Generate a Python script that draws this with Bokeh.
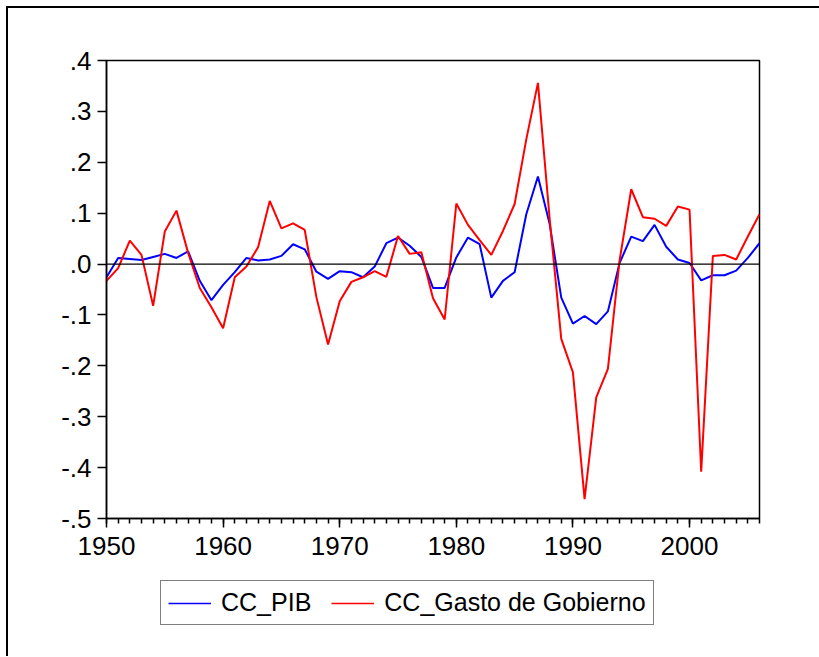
from bokeh.plotting import figure
from bokeh.layouts import column
from bokeh.models import (ColumnDataSource, FixedTicker, CustomJSTickFormatter, Span,
                          Legend, LegendItem)
from bokeh.embed import file_html
from bokeh.resources import INLINE

years = list(range(1950, 2007))
cc_pib = [-0.026, 0.012, 0.010, 0.008, 0.014, 0.020, 0.012, 0.025, -0.033, -0.071,
          -0.041, -0.016, 0.012, 0.007, 0.009, 0.016, 0.039, 0.029, -0.015, -0.029,
          -0.014, -0.016, -0.026, -0.005, 0.041, 0.052, 0.036, 0.014, -0.047, -0.047,
          0.013, 0.052, 0.039, -0.066, -0.033, -0.016, 0.098, 0.172, 0.079, -0.066,
          -0.117, -0.102, -0.118, -0.093, 0.002, 0.054, 0.045, 0.077, 0.034, 0.009,
          0.002, -0.032, -0.022, -0.022, -0.013, 0.012, 0.041]
cc_gasto = [-0.033, -0.008, 0.046, 0.018, -0.082, 0.064, 0.105, 0.022, -0.047, -0.085,
            -0.126, -0.026, -0.005, 0.033, 0.124, 0.070, 0.080, 0.067, -0.065, -0.158,
            -0.073, -0.035, -0.026, -0.014, -0.025, 0.055, 0.020, 0.023, -0.067, -0.109,
            0.119, 0.077, 0.047, 0.018, 0.065, 0.118, 0.245, 0.356, 0.090, -0.147,
            -0.213, -0.462, -0.262, -0.206, 0.007, 0.147, 0.092, 0.089, 0.075, 0.113,
            0.107, -0.408, 0.016, 0.018, 0.009, 0.054, 0.098]
y_ticks = [-0.5, -0.4, -0.3, -0.2, -0.1, 0.0, 0.1, 0.2, 0.3, 0.4]
x_ticks = [1950, 1960, 1970, 1980, 1990, 2000]
labels = ["CC_PIB", "CC_Gasto de Gobierno"]
colors = ["#0000FF", "#FF0000"]

FONT = "Liberation Sans"
FS = "26px"
LFS = "25px"

src = ColumnDataSource(dict(year=years, pib=cc_pib, gasto=cc_gasto))

p = figure(width=811, height=562, output_backend="svg", toolbar_location=None,
           x_range=(1950, 2006), y_range=(-0.5, 0.4),
           min_border_left=98, min_border_right=60, min_border_top=52, min_border_bottom=52)
p.xgrid.visible = False
p.ygrid.visible = False
p.outline_line_color = "black"
p.outline_line_width = 1.5

zero = Span(location=0, dimension="width", line_color="black", line_width=1.2)
p.add_layout(zero)

r1 = p.line("year", "pib", source=src, line_color=colors[0], line_width=2)
r2 = p.line("year", "gasto", source=src, line_color=colors[1], line_width=2)

for ax in (p.xaxis[0], p.yaxis[0]):
    ax.axis_line_color = "black"
    ax.axis_line_width = 1.5
    ax.major_tick_line_color = "black"
    ax.major_tick_line_width = 1.5
    ax.minor_tick_line_color = "black"
    ax.minor_tick_line_width = 1.5
    ax.major_label_text_font = FONT
    ax.major_label_text_font_size = FS
    ax.major_label_text_color = "black"

p.xaxis.ticker = FixedTicker(ticks=x_ticks, minor_ticks=years)
p.xaxis.major_tick_out = 9
p.xaxis.major_tick_in = 0
p.xaxis.minor_tick_out = 5
p.xaxis.minor_tick_in = 0
p.xaxis.major_label_standoff = 9

p.yaxis.ticker = FixedTicker(ticks=y_ticks, minor_ticks=[])
p.yaxis.major_tick_out = 9
p.yaxis.major_tick_in = 0
p.yaxis.minor_tick_out = 0
p.yaxis.major_label_standoff = 6
p.yaxis.formatter = CustomJSTickFormatter(
    code="var s = tick.toFixed(1); return s.replace('0.', '.');")

# legend strip below the chart (frames of the column are aligned)
p2 = figure(width=811, height=86, output_backend="svg", toolbar_location=None,
            x_axis_location=None, y_axis_location=None,
            x_range=(0, 1), y_range=(0, 1),
            min_border_left=0, min_border_right=0, min_border_top=0, min_border_bottom=0)
p2.xgrid.visible = False
p2.ygrid.visible = False
p2.outline_line_color = None
d1 = p2.line([-5, -4], [-5, -4], line_color=colors[0], line_width=1.5)
d2 = p2.line([-5, -4], [-5, -4], line_color=colors[1], line_width=1.5)

legend = Legend(items=[LegendItem(label=labels[0], renderers=[d1]),
                       LegendItem(label=labels[1], renderers=[d2])],
                orientation="horizontal", location=(54, 31),
                label_text_font=FONT, label_text_font_size=LFS, label_text_color="black",
                border_line_color="black", border_line_width=1.2,
                background_fill_alpha=1.0, padding=7, spacing=20,
                label_standoff=10, glyph_width=43, glyph_height=20, margin=0)
p2.add_layout(legend, "center")

layout = column(p, p2, spacing=0,
                styles={"border-left": "2px solid black", "border-top": "2px solid black",
                        "margin-left": "6px", "margin-top": "6px"})

open("out.html", "w").write(file_html(layout, INLINE))
